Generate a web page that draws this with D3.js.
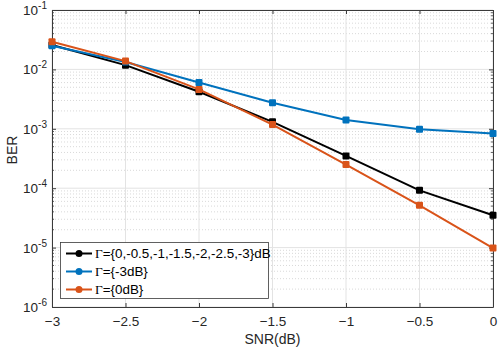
<!DOCTYPE html>
<html>
<head>
<meta charset="utf-8">
<script src="https://cdn.jsdelivr.net/npm/d3@7"></script>
<style>
  body { margin: 0; background: #fff; }
  text { font-family: "Liberation Sans", Arial, sans-serif; }
</style>
</head>
<body>
<div id="chart"></div>
<script>
// Data
var snr = [-3, -2.5, -2, -1.5, -1, -0.5, 0];
var berAll = [0.0257, 0.0118, 0.0042, 0.00131, 0.00035, 0.000092, 0.000035];
var berM3 = [0.025, 0.0133, 0.006, 0.00274, 0.00141, 0.00098, 0.00083];
var ber0 = [0.0292, 0.0138, 0.0046, 0.00118, 0.00025, 0.0000515, 0.0000098];
var seriesNames = ["={0,-0.5,-1,-1.5,-2,-2.5,-3}dB", "={-3dB}", "={0dB}"];
var seriesColors = ["#000000", "#0072BD", "#D95319"];
var xTicks = [-3, -2.5, -2, -1.5, -1, -0.5, 0];
var yExps = [-1, -2, -3, -4, -5, -6];

// Dimensions
var svgWidth = 498, svgHeight = 350;
var marginLeft = 52, marginTop = 10, marginRight = 5, marginBottom = 43;
var chartWidth = svgWidth - marginLeft - marginRight;
var chartHeight = svgHeight - marginTop - marginBottom;

var svg = d3.select("#chart").append("svg")
  .attr("width", svgWidth)
  .attr("height", svgHeight);

var chartGroup = svg.append("g")
  .attr("transform", `translate(${marginLeft}, ${marginTop})`);

var xScale = d3.scaleLinear().domain([-3, 0]).range([0, chartWidth]);
var yScale = d3.scaleLog().domain([1e-6, 1e-1]).range([chartHeight, 0]);

// Minor grid (horizontal only, dotted)
var minorVals = [];
for (var e = -6; e < -1; e++) {
  for (var m = 2; m <= 9; m++) minorVals.push(m * Math.pow(10, e));
}
chartGroup.append("g").selectAll("line")
  .data(minorVals).enter().append("line")
  .attr("x1", 0).attr("x2", chartWidth)
  .attr("y1", d => yScale(d)).attr("y2", d => yScale(d))
  .attr("stroke", "#cfcfcf").attr("stroke-width", 0.8)
  .attr("stroke-dasharray", "1,2");

// Major grid
chartGroup.append("g").selectAll("line")
  .data(yExps).enter().append("line")
  .attr("x1", 0).attr("x2", chartWidth)
  .attr("y1", d => yScale(Math.pow(10, d))).attr("y2", d => yScale(Math.pow(10, d)))
  .attr("stroke", "#e3e3e3").attr("stroke-width", 1);
chartGroup.append("g").selectAll("line")
  .data(xTicks).enter().append("line")
  .attr("y1", 0).attr("y2", chartHeight)
  .attr("x1", d => xScale(d)).attr("x2", d => xScale(d))
  .attr("stroke", "#e3e3e3").attr("stroke-width", 1);

// Axes (ticks inward, box on all sides)
var axisColor = "#3a3a3a";
function styleAxis(g) {
  g.select(".domain").attr("stroke", axisColor);
  g.selectAll(".tick line").attr("stroke", axisColor);
  g.selectAll(".tick text").attr("fill", "#262626").attr("font-size", 13.5)
    .attr("font-family", "Liberation Sans, Arial, sans-serif");
}

var xAxis = d3.axisBottom(xScale).tickValues(xTicks).tickSizeInner(-4).tickSizeOuter(0)
  .tickPadding(9).tickFormat(d3.format("~g"));
chartGroup.append("g").attr("transform", `translate(0,${chartHeight})`)
  .call(xAxis).call(styleAxis);
chartGroup.append("g")
  .call(d3.axisTop(xScale).tickValues(xTicks).tickSizeInner(-4).tickSizeOuter(0).tickFormat(""))
  .call(styleAxis);

var yAxisL = d3.axisLeft(yScale).tickValues(yExps.map(d => Math.pow(10, d)))
  .tickSizeInner(-4).tickSizeOuter(0).tickPadding(8).tickFormat("");
chartGroup.append("g").call(yAxisL).call(styleAxis);
chartGroup.append("g").attr("transform", `translate(${chartWidth},0)`)
  .call(d3.axisRight(yScale).tickValues(yExps.map(d => Math.pow(10, d)))
    .tickSizeInner(-4).tickSizeOuter(0).tickFormat(""))
  .call(styleAxis);

// Minor ticks on left/right
[0, chartWidth].forEach(function(x0) {
  var dir = x0 === 0 ? 1 : -1;
  chartGroup.append("g").selectAll("line")
    .data(minorVals).enter().append("line")
    .attr("x1", x0).attr("x2", x0 + dir * 2)
    .attr("y1", d => yScale(d)).attr("y2", d => yScale(d))
    .attr("stroke", axisColor).attr("stroke-width", 0.8);
});

// Y tick labels 10^n
yExps.forEach(function(ex) {
  var t = chartGroup.append("text")
    .attr("x", -5).attr("y", yScale(Math.pow(10, ex)) + 5)
    .attr("text-anchor", "end").attr("fill", "#262626").attr("font-size", 13.5);
  t.append("tspan").text("10");
  t.append("tspan").attr("dy", -6).attr("font-size", 10).text(ex);
});

// Lines and markers
var allSeries = [berAll, berM3, ber0];
var line = d3.line().x((d, i) => xScale(snr[i])).y(d => yScale(d));
allSeries.forEach(function(s, k) {
  chartGroup.append("path").datum(s)
    .attr("d", line).attr("fill", "none")
    .attr("stroke", seriesColors[k]).attr("stroke-width", 2);
  chartGroup.append("g").selectAll("rect")
    .data(s).enter().append("rect")
    .attr("x", (d, i) => xScale(snr[i]) - 3.5)
    .attr("y", d => yScale(d) - 3.5)
    .attr("width", 7).attr("height", 7).attr("rx", 1)
    .attr("fill", seriesColors[k]);
});

// Axis titles
svg.append("text")
  .attr("x", marginLeft + chartWidth / 2).attr("y", 344)
  .attr("text-anchor", "middle").attr("font-size", 14).attr("fill", "#262626")
  .text("SNR(dB)");
svg.append("text")
  .attr("transform", `translate(16.5, 150) rotate(-90)`)
  .attr("text-anchor", "middle").attr("font-size", 14).attr("fill", "#262626")
  .text("BER");

// Legend
var legend = svg.append("g");
legend.append("rect")
  .attr("x", 60.5).attr("y", 242.5).attr("width", 208).attr("height", 56)
  .attr("fill", "#fff").attr("stroke", axisColor).attr("stroke-width", 0.8);
var legendY = [253.5, 271.5, 289.5];
seriesNames.forEach(function(name, k) {
  legend.append("line")
    .attr("x1", 66).attr("x2", 92).attr("y1", legendY[k]).attr("y2", legendY[k])
    .attr("stroke", seriesColors[k]).attr("stroke-width", 2);
  legend.append("circle")
    .attr("cx", 79).attr("cy", legendY[k]).attr("r", 3.5)
    .attr("fill", seriesColors[k]);
  var t = legend.append("text")
    .attr("x", 95).attr("y", legendY[k] + 4.5)
    .attr("font-size", 13.4).attr("fill", "#000");
  t.append("tspan").attr("font-family", "Liberation Serif, serif").text("Γ");
  t.append("tspan").text(name);
});
</script>
</body>
</html>
